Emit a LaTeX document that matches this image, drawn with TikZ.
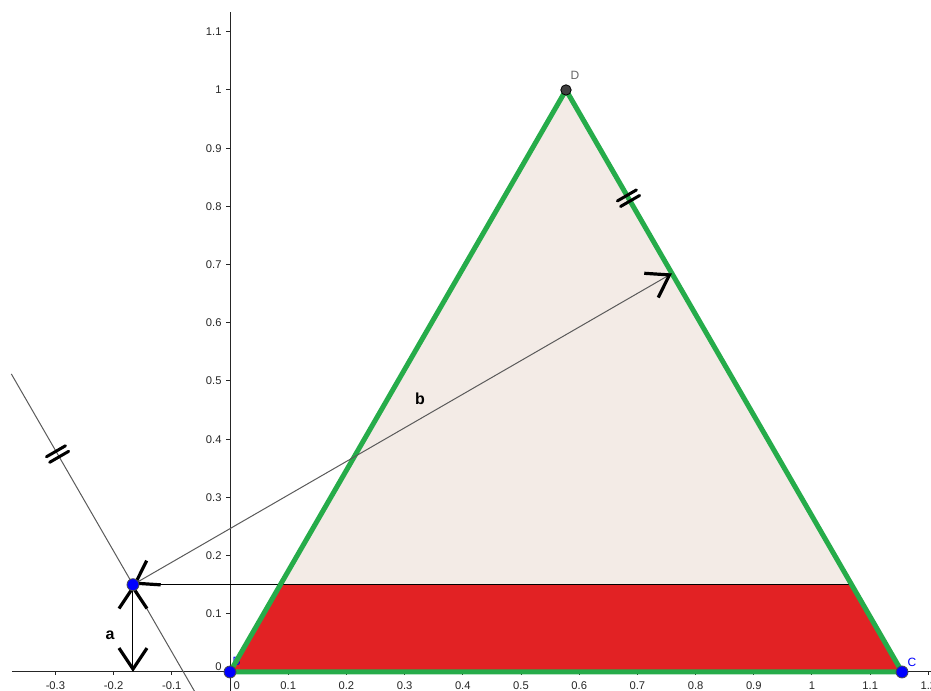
\documentclass[tikz,border=0pt]{standalone}
\usepackage{fontspec}
\setmainfont{Liberation Sans}
\usetikzlibrary{arrows.meta,calc}
\definecolor{edgegreen}{RGB}{38,172,74}
\definecolor{bandred}{RGB}{226,34,36}
\definecolor{facepink}{RGB}{243,235,230}
\definecolor{pointblue}{RGB}{0,0,255}
\definecolor{shaftgray}{RGB}{90,90,90}

\begin{document}
\begin{tikzpicture}[x=291pt,y=291pt,line width=.5pt,
  barbs/.style={{Straight Barb[length=10.5pt,width=14pt,line width=1.6pt,color=black]}-{Straight Barb[length=10.5pt,width=14pt,line width=1.6pt,color=black]}},
  ticklabel/.style={inner sep=1pt,font=\fontsize{5.6}{6.5}\selectfont,text=black!85},
  veclabel/.style={inner sep=1pt,font=\fontsize{8}{9}\selectfont\bfseries},
  ptlabel/.style={inner sep=1pt,font=\fontsize{6}{7}\selectfont},
  ptdot/.style={draw=black!70,fill=pointblue,line width=.4pt},
  parmark/.pic={\draw[line width=1.5pt,line cap=round] (-1.6pt,-5.5pt) -- (-1.6pt,5.5pt) (1.6pt,-5.5pt) -- (1.6pt,5.5pt);}]
\path[use as bounding box] (-0.3952,-0.0326) rectangle (1.2045,1.1546);
% points of the figure
\coordinate (B) at (0,0);
\coordinate (C) at ({2/sqrt(3)},0);
\coordinate (D) at ({1/sqrt(3)},1);
\coordinate (A) at (-0.1667,0.15);
\coordinate (E) at ($(D)!(A)!(C)$);
\coordinate (F) at (A |- B);
\coordinate (G) at ($(B)!0.15!(D)$);
\coordinate (H) at ($(C)!0.15!(D)$);
\coordinate (P1) at ($(A)+(-0.209,0.362)$);
\coordinate (P2) at ($(A)+(0.1097,-0.19)$);
% axes
\draw[black!85] (-0.3746,0) -- (1.2045,0);
\draw[black!85] (0,-0.0326) -- (0,1.134);
\foreach \x in {-0.3,-0.2,-0.1,0.1,0.2,0.3,0.4,0.5,0.6,0.7,0.8,0.9,1,1.1,1.2}{
  \draw[black!85] (\x,0) -- ++(0,-1.5pt);
  \node[ticklabel,anchor=north] at ($(\x,0)+(0,-3.5pt)$) {\x};
}
\node[ticklabel,anchor=north west] at ($(0,0)+(0.5pt,-3.5pt)$) {0};
\foreach \y in {0.1,0.2,0.3,0.4,0.5,0.6,0.7,0.8,0.9,1,1.1}{
  \draw[black!85] (0,\y) -- ++(-2pt,0);
  \node[ticklabel,anchor=east] at ($(0,\y)+(-3pt,0)$) {\y};
}
\node[ticklabel,anchor=south east] at ($(0,0)+(-3pt,-0.5pt)$) {0};
% triangle and band
\fill[facepink] (B) -- (C) -- (D) -- cycle;
\fill[bandred] (B) -- (C) -- (H) -- (G) -- cycle;
\draw[black] (A) -- (H);
\node[ptlabel,text=pointblue] (lB) at (0.0112,0.0189) {B};
\draw[edgegreen,line width=2.5pt,line join=round] (B) -- (C) -- (D) -- cycle;
% line through A parallel to DC
\draw[shaftgray] (P1) -- (P2);
\path (P1) -- (A) pic[pos=0.38,sloped]{parmark};
\path (D) -- (C) pic[pos=0.186,sloped]{parmark};
% distances a and b
\draw[shaftgray,barbs] (A) -- (E);
\draw[black,barbs] (A) -- (F);
\node[veclabel] (la) at (-0.2062,0.0636) {a};
\node[veclabel] (lb) at (0.3265,0.469) {b};
% points
\filldraw[draw=black,fill=black!75,line width=.4pt] (D) circle (2.6pt);
\filldraw[ptdot] (A) circle (3pt);
\filldraw[ptdot] (B) circle (3pt);
\filldraw[ptdot] (C) circle (3pt);
\node[ptlabel,text=black!60] (lD) at (0.5928,1.0258) {D};
\node[ptlabel,text=pointblue] (lC) at (1.1718,0.0172) {C};
\end{tikzpicture}
\end{document}
